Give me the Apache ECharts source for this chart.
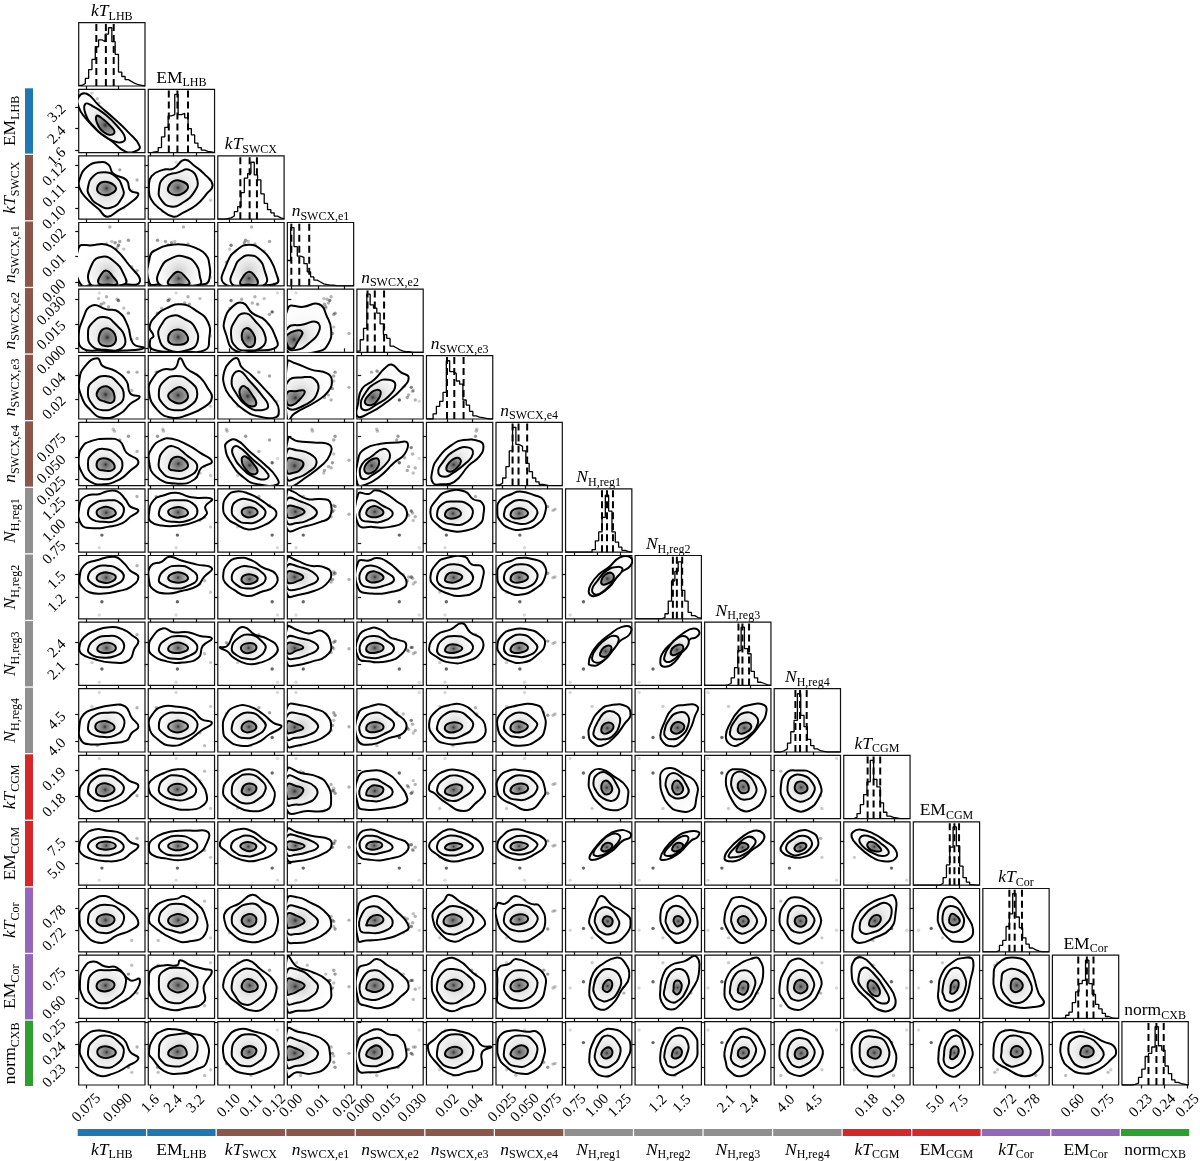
<!DOCTYPE html>
<html lang="en">
<head>
<meta charset="UTF-8">
<title>Corner plot</title>
<script src="https://cdn.jsdelivr.net/npm/echarts@6/dist/echarts.min.js"></script>
<style>
  html, body { margin: 0; background: #fff; }
  #main { width: 1200px; height: 1161px; }
</style>
</head>
<body>
<div id="main"></div>
<script>
// parameters, in corner order
const paramLabels = ['{i|kT}{s|LHB}', '{r|EM}{s|LHB}', '{i|kT}{s|SWCX}', '{i|n}{s|SWCX,e1}', '{i|n}{s|SWCX,e2}', '{i|n}{s|SWCX,e3}', '{i|n}{s|SWCX,e4}',
  '{i|N}{s|H,reg1}', '{i|N}{s|H,reg2}', '{i|N}{s|H,reg3}', '{i|N}{s|H,reg4}', '{i|kT}{s|CGM}', '{r|EM}{s|CGM}', '{i|kT}{s|Cor}', '{r|EM}{s|Cor}', '{r|norm}{s|CXB}'];
const axisMin = [0.0712, 1.515, 0.0951, -0.0015, -0.0025, 0.0028, 0.0176, 0.651, 0.9125, 1.817, 3.789, 0.17146, 2.605, 0.6635, 0.496, 0.22185];
const axisMax = [0.1029, 3.857, 0.1244, 0.0234, 0.0362, 0.0572, 0.0912, 1.379, 1.7425, 2.67, 4.987, 0.19575, 9.61, 0.8314, 0.831, 0.25026];
const tickText = [['0.075', '0.090'], ['1.6', '2.4', '3.2'], ['0.10', '0.11', '0.12'], ['0.00', '0.01', '0.02'], ['0.000', '0.015', '0.030'], ['0.02', '0.04'], ['0.025', '0.050', '0.075'],
  ['0.75', '1.00', '1.25'], ['1.2', '1.5'], ['2.1', '2.4'], ['4.0', '4.5'], ['0.18', '0.19'], ['5.0', '7.5'], ['0.72', '0.78'], ['0.60', '0.75'], ['0.23', '0.24', '0.25']];
const groupColors = ['#1f77b4', '#1f77b4', '#8c564b', '#8c564b', '#8c564b', '#8c564b', '#8c564b', '#8f8f8f', '#8f8f8f', '#8f8f8f', '#8f8f8f', '#d62728', '#d62728', '#9467bd', '#9467bd', '#2ca02c'];

// 16/50/84 percent lines, read as percent of each axis range
const quantilePct = [[26.6, 41, 52.8], [31, 44, 60], [34, 48, 59], [6, 18, 33], [16, 27, 41], [31, 42, 56], [25, 34, 47], [55, 62.5, 71.5], [57, 63, 71], [51, 57, 67], [32, 39, 49], [36, 45, 55], [55, 62, 69], [40, 48, 59], [39, 52, 62], [40, 52, 63]];

// histogram heights, 20 bins per parameter, percent of panel height
const histLHBkT = [1, 4, 12, 26, 42, 62, 73, 70, 82, 92, 70, 50, 22, 15, 10, 7, 4, 2, 1, 0];
const histLHBem = [0, 1, 2, 8, 25, 40, 58, 60, 92, 60, 62, 55, 38, 28, 15, 8, 4, 2, 1, 0];
const histSWCXkT = [0, 0, 1, 2, 5, 12, 20, 42, 65, 72, 90, 70, 62, 40, 25, 15, 10, 5, 2, 1];
const histE1 = [40, 92, 62, 47, 45, 35, 22, 14, 9, 6, 3, 2, 1, 1, 0, 0, 0, 0, 0, 0];
const histE2 = [2, 20, 38, 92, 75, 70, 62, 45, 28, 22, 10, 7, 4, 2, 1, 1, 0, 0, 0, 0];
const histE3 = [0, 0, 8, 20, 28, 42, 92, 75, 72, 60, 55, 30, 22, 12, 5, 3, 2, 1, 0, 0];
const histE4 = [1, 4, 12, 30, 55, 92, 65, 62, 55, 35, 22, 12, 6, 2, 1, 0, 0, 0, 0, 0];
const histN1 = [0, 0, 0, 0, 0, 0, 0, 0, 4, 18, 32, 55, 90, 65, 32, 16, 8, 3, 1, 0];
const histN2 = [0, 0, 0, 0, 0, 0, 0, 0, 2, 8, 28, 60, 75, 90, 45, 28, 10, 5, 2, 1];
const histN3 = [0, 0, 0, 0, 0, 0, 1, 3, 12, 28, 55, 92, 58, 50, 22, 12, 5, 3, 1, 0];
const histN4 = [0, 0, 2, 5, 14, 32, 50, 92, 58, 40, 20, 10, 5, 2, 1, 0, 0, 0, 0, 0];
const histCGMkT = [0, 0, 0, 2, 8, 22, 38, 58, 92, 62, 50, 25, 10, 4, 2, 1, 0, 0, 0, 0];
const histCGMem = [0, 0, 0, 0, 0, 0, 0, 0, 3, 12, 32, 60, 92, 62, 30, 12, 5, 1, 0, 0];
const histCorkT = [0, 0, 0, 0, 2, 10, 18, 40, 60, 92, 55, 38, 22, 12, 6, 3, 1, 0, 0, 0];
const histCorEm = [0, 0, 0, 1, 5, 10, 25, 42, 55, 60, 92, 55, 38, 22, 15, 8, 3, 1, 0, 0];
const histNorm = [0, 0, 0, 1, 3, 12, 25, 45, 50, 60, 92, 62, 55, 30, 18, 8, 4, 2, 1, 0];
const histTable = [histLHBkT, histLHBem, histSWCXkT, histE1, histE2, histE3, histE4, histN1, histN2, histN3, histN4, histCGMkT, histCGMem, histCorkT, histCorEm, histNorm];

// samples lying outside the contours: 16 values (percent of axis range), last one its opacity
const outlierSamples = [
  [35,44,82,24,64,30,36,27,27,26,23,72,27,37,58,67,.6], [31,42,90,13,94,28,43,7,6,5,94,95,8,34,48,87,.15],
  [52,22,13,37,30,76,89,68,66,68,60,55,63,65,50,34,.25], [54,23,14,38,31,75,86,66,65,66,58,54,62,64,48,33,.25],
  [47,53,51,93,30,50,40,60,62,58,40,50,60,50,50,50,.3], [60,30,20,64,82,50,60,65,66,60,50,40,64,40,60,50,.5],
  [68,20,18,58,70,60,58,70,70,64,60,30,66,30,70,42,.25], [30,78,70,55,85,45,20,50,55,50,30,60,55,60,30,60,.25],
  [62,26,78,70,60,68,72,74,74,68,62,44,66,48,76,36,.35], [75,14,42,72,62,74,78,72,72,70,58,40,70,36,70,28,.4],
  [55,35,40,68,30,48,36,64,62,60,42,44,60,50,48,50,.4], [38,55,52,62,78,38,30,58,66,54,36,50,64,44,58,56,.3],
  [45,48,42,58,72,52,44,70,60,62,46,40,58,54,44,44,.3], [50,40,46,70,40,60,50,66,70,58,50,48,66,40,56,46,.25],
  [42,60,56,66,88,30,28,56,58,52,34,54,60,56,46,60,.3], [58,32,36,60,84,44,50,62,64,60,44,42,56,46,60,48,.3],
  [34,62,60,56,76,34,24,60,60,56,38,52,62,52,50,56,.35], [80,15,45,30,20,45,36,62,64,58,42,44,62,18,84,20,.25],
  [28,85,50,20,30,40,30,55,60,50,10,75,55,80,20,15,.25], [88,12,62,24,22,74,54,88,84,80,70,36,74,50,40,60,.3],
  [20,94,30,14,26,20,16,40,42,36,72,16,44,22,88,24,.2]
];

// contours per panel [outer, middle, inner]; each a flat x,y list, percent of axis range
const contourRow1 = [
  [[0,88,12,93,30,75,52,55,75,32,92,10,85,2,70,2,50,18,30,33,10,55,0,72],[10,77,20,74,38,62,58,42,70,22,60,16,42,24,22,42,10,62],[27,58,34,55,46,44,54,33,48,28,38,32,28,46]]
];
const contourRow2 = [
  [[1,62,12,82,32,90,45,86,52,72,72,62,78,45,90,40,78,26,60,14,43,4,30,16,10,35,1,50],[14,50,22,68,38,74,55,68,66,50,66,35,48,18,28,24,16,38],[28,50,34,58,46,58,56,50,52,42,40,38,30,42]],
  [[1,50,5,68,22,78,38,80,55,94,70,84,84,72,97,54,88,40,72,22,52,10,38,4,18,16,4,32],[16,45,24,66,45,74,62,78,74,62,70,44,52,26,34,20,20,30],[30,50,38,60,50,60,60,52,54,42,42,38,32,42]]
];
const contourRow3 = [
  [[2,4,0,60,20,64,42,65,58,55,72,38,92,6,60,3,30,3],[17,3,20,34,36,46,54,38,68,18,70,3,40,2],[30,4,34,18,42,24,52,14,58,3,44,2]],
  [[2,4,3,48,14,58,30,64,55,65,75,58,86,50,92,35,92,10,86,3,50,2,20,3],[16,3,20,30,36,44,55,46,72,34,78,14,78,2,45,2],[30,3,36,16,46,22,56,14,62,3,46,2]],
  [[9,4,14,36,28,56,48,65,68,55,80,40,88,20,89,4,50,2],[21,3,26,30,36,44,50,48,62,42,70,26,72,3,46,2],[34,3,38,14,46,22,54,18,60,3,46,2]]
];
const contourRow4 = [
  [[0,22,6,52,20,74,42,68,60,64,74,42,82,14,98,7,70,3,30,3,6,6],[14,30,20,46,38,56,56,44,70,22,64,6,40,4,20,10],[30,22,36,36,48,36,56,24,52,12,40,10,32,14]],
  [[3,20,8,26,2,40,12,58,28,70,50,76,72,66,90,48,92,22,86,4,50,2,6,5],[16,24,20,44,36,58,56,52,70,40,74,16,60,4,30,4],[30,20,34,32,46,36,58,28,58,16,44,12,34,14]],
  [[12,30,10,50,22,72,38,78,52,62,72,50,88,22,88,8,60,3,26,3],[20,28,26,50,40,62,56,50,72,24,66,8,44,3,28,8],[36,26,42,38,52,32,56,16,48,8,40,14]],
  [[0,2,1,70,24,72,48,76,60,56,66,36,62,14,48,2],[0,8,0,38,24,44,44,48,48,34,32,14,14,4],[0,12,0,28,22,33,14,14,8,6]]
];
const contourRow5 = [
  [[1,62,10,84,28,96,36,84,55,76,72,60,78,40,92,35,78,24,62,8,36,2,18,14,4,36],[14,46,22,60,40,68,58,58,68,36,56,20,36,14,20,24],[27,40,34,50,46,50,54,36,50,26,38,28,30,32]],
  [[1,44,8,66,22,78,40,80,48,96,58,80,78,66,90,48,96,34,86,20,58,6,36,2,14,14],[16,42,24,60,42,68,62,60,74,40,62,20,40,14,22,24],[30,36,38,46,50,50,60,36,52,26,40,26]],
  [[10,76,20,92,29,96,36,82,50,70,70,48,88,26,92,14,88,3,62,4,40,14,20,34,10,52],[21,62,32,76,48,60,66,38,76,20,66,14,48,18,28,40],[33,46,40,52,52,38,58,24,50,20,40,26,34,36]],
  [[0,-4,0,90,12,88,36,78,60,72,67,62,62,44,44,28,10,8],[0,18,0,58,24,66,42,62,46,44,30,24],[0,24,0,42,12,44,26,44,18,30,8,22]],
  [[1,4,2,26,8,48,26,62,42,80,52,86,66,74,78,66,68,48,44,26,20,10],[6,20,12,40,30,58,48,62,58,54,48,36,28,22,14,14],[12,26,18,38,30,46,36,42,30,28,22,22]]
];
const contourRow6 = [
  [[0,44,6,62,18,70,42,74,62,70,72,52,90,38,76,22,62,10,38,2,18,6,4,22],[14,34,20,50,38,58,58,48,66,32,56,16,38,10,20,18],[27,34,32,42,44,42,54,32,50,24,38,24,30,26]],
  [[1,40,6,60,20,72,36,74,60,64,78,52,96,38,80,28,70,10,44,3,12,14],[16,38,24,56,38,62,58,48,74,30,60,14,36,12,20,22],[32,34,38,44,50,44,60,32,52,24,40,24,32,26]],
  [[11,62,16,70,28,72,48,54,70,34,88,14,90,2,60,2,40,12,20,36],[22,58,30,62,52,42,76,18,72,10,54,14,36,28,24,46],[36,42,42,46,54,34,60,22,52,18,42,26]],
  [[0,-2,1,74,16,70,40,68,64,64,64,48,52,32,24,10,10,0],[0,10,0,56,14,56,34,50,44,36,30,20,14,12],[0,20,0,42,12,42,24,36,18,24,8,20]],
  [[1,2,2,42,12,58,36,66,62,68,76,68,72,50,56,36,34,14,14,2],[5,16,8,34,22,46,40,58,50,48,40,30,22,16,12,10],[12,22,14,34,24,42,32,42,32,30,22,20]],
  [[10,4,9,24,18,44,38,64,56,72,80,70,86,62,80,46,64,32,42,6,22,2],[18,20,24,36,44,56,64,60,70,50,60,36,40,20,28,14],[30,26,34,36,46,44,52,38,44,26,36,22]]
];
const contourRow7 = [
  [[1,72,10,88,32,92,42,96,58,96,70,84,78,72,90,66,78,56,66,46,44,40,22,38,4,44],[14,62,22,76,44,82,62,78,68,64,56,50,36,48,20,52],[27,62,34,70,48,70,56,62,50,56,36,54]],
  [[1,60,8,82,24,90,42,94,60,88,72,86,96,84,86,72,88,60,70,48,46,42,20,42,4,48],[16,62,26,78,46,82,66,78,74,62,60,50,38,48,22,52],[30,64,38,70,52,70,60,62,52,56,38,56]],
  [[8,70,14,88,28,96,48,92,66,82,76,74,88,64,84,52,64,40,46,36,28,44,14,54],[21,66,30,82,50,82,66,72,72,62,62,50,44,46,28,52],[36,64,42,70,54,70,60,62,52,56,42,56]],
  [[0,36,0,98,8,96,30,84,50,84,64,80,64,56,50,48,24,40],[0,46,0,84,20,80,40,70,44,60,30,50,14,46],[0,56,0,72,12,72,26,64,14,56,6,54]],
  [[2,44,2,92,18,92,28,98,44,92,60,80,74,68,72,50,50,40,24,40],[5,54,8,72,22,82,38,74,54,62,42,50,20,48],[14,62,22,72,34,70,40,62,32,56,20,56]],
  [[6,62,16,84,32,96,58,96,70,84,84,78,86,60,80,44,58,34,36,34,18,42],[16,60,24,76,42,80,62,76,70,62,58,46,38,44,22,50],[28,60,34,68,46,68,52,60,44,54,32,54]],
  [[2,64,6,82,24,92,36,96,58,90,72,82,74,62,62,44,40,36,20,38,6,50],[12,60,20,76,40,82,58,72,62,60,48,46,30,46,16,52],[22,60,28,68,42,68,48,60,38,54,26,54]]
];
const contourRow8 = [
  [[1,62,8,84,26,92,54,98,68,88,78,76,90,66,78,50,60,44,38,40,16,42,4,52],[14,66,24,80,42,84,60,78,68,66,56,54,36,50,20,56],[27,64,34,72,48,72,56,66,48,58,34,58]],
  [[1,62,4,84,20,90,32,98,50,92,72,86,96,80,84,66,74,52,50,44,30,40,8,46],[16,62,26,78,46,84,64,78,74,64,60,52,40,48,22,54],[30,64,38,72,52,72,60,64,52,58,38,58]],
  [[8,66,14,86,30,96,52,92,66,82,88,70,86,52,64,42,44,36,24,46,12,56],[21,66,30,80,50,82,68,72,72,62,62,52,44,48,28,54],[36,64,44,70,56,68,60,62,52,56,40,56]],
  [[0,38,0,96,14,92,34,84,54,82,66,72,58,54,40,44,18,38],[0,48,0,84,18,82,38,74,46,62,30,52,12,46],[0,58,0,74,10,74,24,66,12,58,4,56]],
  [[2,48,2,90,18,92,30,96,46,90,64,74,74,62,72,50,50,42,22,40],[5,58,8,78,24,84,40,76,56,62,40,52,18,50],[14,64,20,74,34,72,40,64,30,58,20,58]],
  [[6,66,16,88,30,96,58,98,68,86,84,82,84,60,76,44,50,36,32,40,14,50],[16,66,24,80,42,86,62,78,70,62,54,50,36,48,20,54],[28,62,34,72,46,72,54,66,44,58,32,58]],
  [[2,68,6,84,24,92,34,96,56,94,72,86,74,66,60,48,36,38,18,42,6,52],[12,66,20,80,40,86,58,78,62,64,48,50,30,50,16,56],[22,64,28,72,42,72,48,64,38,58,26,58]],
  [[35,42,38,54,50,70,66,82,82,97,98,97,98,84,82,72,66,50,50,38,40,36],[40,46,48,60,62,76,78,82,86,78,76,64,60,46,46,38],[54,60,60,70,70,72,72,62,64,56,56,54]]
];
const contourRow9 = [
  [[1,60,8,76,24,86,46,92,68,88,82,78,90,70,84,58,76,40,50,36,22,42,4,50],[14,56,24,72,42,78,62,74,68,58,54,46,34,44,20,48],[28,58,36,66,50,66,56,58,48,52,34,52]],
  [[1,60,6,76,22,90,38,84,60,84,78,78,96,74,82,62,76,44,52,36,28,38,6,48],[16,58,26,72,46,78,66,72,74,58,60,46,40,42,22,48],[30,58,38,66,52,66,60,58,50,52,36,52]],
  [[3,60,14,62,26,84,40,92,56,80,74,74,90,60,84,46,64,36,44,34,24,44,14,54],[21,58,30,74,50,80,68,68,72,58,60,44,44,42,28,48],[35,60,42,66,54,66,58,58,50,52,40,52]],
  [[0,34,0,92,14,88,32,82,52,86,66,64,58,46,38,38,14,32],[0,44,0,76,20,74,40,68,46,58,30,48,10,42],[0,52,0,66,12,66,24,60,12,54,4,50]],
  [[2,44,2,76,20,90,36,88,50,76,62,72,74,66,68,50,46,38,18,38],[5,52,8,70,24,78,42,72,56,58,40,46,16,44],[14,58,20,66,34,66,40,58,30,52,18,52]],
  [[4,58,16,80,36,88,54,98,66,84,84,72,82,52,60,38,36,36,14,46],[16,56,24,72,42,78,62,72,70,58,54,46,34,44,20,48],[28,56,34,64,46,64,54,58,44,52,32,52]],
  [[2,62,8,78,24,88,50,88,66,80,74,66,62,48,40,36,18,40,6,50],[12,60,20,74,40,80,56,70,62,58,46,46,28,46,16,50],[22,58,30,66,42,66,48,58,38,52,26,52]],
  [[35,34,38,48,50,66,66,80,84,92,98,92,96,80,82,70,64,46,48,32,38,32],[40,44,48,60,62,74,76,78,80,70,70,54,58,40,46,36],[52,50,58,60,68,62,68,54,62,46,54,46]],
  [[38,36,42,52,56,68,72,82,88,90,97,84,92,76,82,72,68,48,54,32,42,30],[44,44,52,62,66,76,78,76,80,64,68,50,54,38,46,38],[54,54,60,62,70,64,72,56,64,50,56,48]]
];
const contourRow10 = [
  [[1,40,8,60,24,68,50,74,70,72,80,54,90,40,80,30,72,18,46,14,18,12,4,18],[14,38,22,56,44,62,64,58,68,40,54,26,34,24,20,28],[25,40,32,48,48,46,54,38,46,32,32,32]],
  [[1,42,8,62,22,72,40,72,66,66,80,52,96,46,80,34,60,18,36,10,14,20],[16,42,24,58,44,62,66,56,74,40,58,24,38,22,22,30],[30,40,38,48,52,48,60,40,50,32,38,32]],
  [[8,34,12,58,28,72,48,72,68,60,84,46,96,40,78,28,58,14,34,10,14,20],[21,38,30,56,50,62,66,52,72,40,58,26,40,22,26,28],[36,40,44,48,54,46,58,38,50,32,40,32]],
  [[0,10,0,72,20,74,42,68,58,60,66,40,58,26,38,16,14,10],[0,20,0,58,20,60,40,50,46,38,30,26,10,22],[0,30,0,48,10,46,24,38,12,32,4,30]],
  [[2,18,2,60,20,72,42,74,60,60,74,46,70,30,48,22,22,12],[5,30,8,50,26,62,44,56,56,42,40,28,18,22],[14,38,20,46,34,46,40,38,30,32,18,32]],
  [[4,44,14,64,34,74,56,74,76,58,88,44,84,22,56,14,26,14,12,24],[16,40,26,58,46,64,64,54,70,40,54,26,34,22,20,30],[28,40,36,46,48,46,54,40,44,32,32,32]],
  [[2,42,8,62,26,72,62,74,72,60,74,38,64,20,36,10,14,18],[12,40,20,56,40,62,56,52,62,42,46,26,28,24,16,30],[22,40,30,48,42,46,48,40,38,32,26,32]],
  [[35,26,38,44,52,66,68,74,92,72,98,58,90,46,74,24,54,10,42,14],[42,30,50,50,62,64,78,60,82,46,70,24,56,20,46,22],[54,36,58,44,68,46,72,38,64,30,56,30]],
  [[38,26,44,46,56,68,72,74,94,72,90,56,82,34,66,12,50,10,42,16],[44,32,52,52,64,62,78,60,80,42,68,24,54,20,46,24],[54,36,60,46,70,46,74,38,66,30,58,30]],
  [[32,26,38,44,52,66,66,74,90,74,92,58,84,44,68,24,48,10,36,14],[38,30,46,50,60,62,76,58,80,44,64,24,50,20,42,22],[50,36,54,44,66,46,70,38,60,30,52,30]]
];
const contourRow11 = [
  [[1,42,8,58,26,74,44,78,64,70,76,60,90,52,78,36,66,26,44,18,24,12,6,26],[14,44,22,62,42,68,60,60,68,46,54,32,34,28,20,34],[26,44,32,54,46,54,54,46,46,38,32,36]],
  [[1,46,4,60,24,72,44,78,62,74,78,58,88,38,84,22,60,14,30,20,10,32],[16,48,26,64,44,68,64,58,72,42,56,30,38,30,22,36],[30,46,38,54,50,54,58,46,50,38,38,38]],
  [[8,44,14,60,30,72,48,78,68,68,82,50,86,36,76,18,48,12,24,22,12,32],[21,44,28,62,48,70,68,58,72,46,60,30,42,24,26,32],[36,44,42,54,54,54,58,46,50,38,40,38]],
  [[0,12,0,78,20,72,46,66,60,54,66,30,60,14,30,12],[0,22,0,66,22,60,42,50,44,36,28,24,10,22],[0,32,0,54,12,52,24,46,16,34,6,32]],
  [[2,20,2,66,24,76,48,70,62,56,76,32,68,22,42,16,14,14],[5,34,8,54,24,62,40,56,54,42,40,30,20,28],[14,38,20,50,32,52,40,46,32,36,20,36]],
  [[4,46,10,62,30,76,50,76,72,68,86,50,88,40,76,26,56,12,28,26,12,40],[16,46,26,62,46,68,64,58,70,48,56,34,38,28,22,36],[28,44,36,52,48,54,54,48,46,38,32,38]],
  [[2,44,4,64,20,76,40,76,62,70,74,46,70,32,50,14,22,24,8,32],[12,46,20,62,40,68,58,58,62,46,48,32,30,30,16,36],[22,46,30,54,44,54,48,46,38,40,26,40]],
  [[35,58,40,74,54,78,74,66,92,50,94,34,88,18,66,14,50,24,38,42],[42,56,48,70,62,72,78,52,80,38,70,28,54,34,46,44],[54,52,60,60,68,54,70,44,62,38,56,42]],
  [[38,58,40,74,54,80,70,72,92,56,92,30,86,14,66,12,50,22,40,42],[46,56,52,70,64,70,78,52,80,40,68,32,54,36,48,46],[56,52,62,60,70,54,72,44,64,38,58,42]],
  [[32,60,36,74,50,78,70,72,88,56,90,34,72,14,54,14,42,28,34,46],[40,58,46,72,60,72,76,54,76,38,62,30,48,36,42,46],[50,54,56,60,64,56,66,44,58,40,52,44]],
  [[10,50,18,72,36,76,56,72,70,52,68,34,50,14,30,14,14,30],[20,50,26,66,44,68,58,56,60,42,46,28,30,30,22,38],[31,50,36,58,46,56,50,46,42,40,34,42]]
];
const contourRow12 = [
  [[1,62,8,78,24,88,44,86,64,82,78,68,90,62,78,50,64,40,40,38,18,42,4,50],[14,62,22,72,40,76,58,72,68,60,56,50,36,47,20,52],[27,62,34,68,48,68,56,62,48,57,34,57]],
  [[1,60,6,72,24,82,46,86,68,86,90,84,88,66,76,50,52,40,28,42,6,48],[16,62,24,72,44,78,66,72,74,60,60,50,38,47,22,52],[30,62,38,68,52,68,60,62,50,56,38,56]],
  [[3,64,12,78,30,88,50,86,70,72,88,60,82,48,62,40,46,38,26,44,12,54],[20,62,30,74,48,78,64,68,72,58,58,48,40,46,26,52],[34,62,42,68,54,66,58,60,50,54,40,56]],
  [[0,40,0,88,14,84,36,78,64,72,66,60,58,52,36,42,14,38],[0,48,0,78,20,76,40,68,46,60,30,52,12,48],[0,58,0,68,12,68,26,62,14,56,4,56]],
  [[2,48,2,78,20,88,38,82,60,74,76,66,74,52,50,42,22,40],[5,58,8,74,24,78,40,72,54,60,40,52,16,50],[14,62,20,68,34,68,38,62,30,57,18,57]],
  [[4,62,14,76,32,88,50,84,70,76,84,62,82,50,62,42,36,38,14,50],[16,62,24,74,44,78,62,70,70,60,54,50,34,47,20,52],[28,60,36,66,48,66,54,62,44,56,32,56]],
  [[2,64,8,76,26,88,48,84,72,74,74,62,60,50,36,40,14,46,4,54],[12,62,20,72,40,78,58,70,62,62,46,50,26,50,16,54],[22,62,30,68,44,66,48,62,38,56,26,56]],
  [[36,44,44,58,60,76,78,86,96,84,98,76,86,70,70,54,54,44,40,40],[42,50,52,66,68,80,82,78,78,66,64,52,50,46],[54,58,60,66,68,66,70,60,62,54,56,54]],
  [[38,42,44,56,60,74,78,84,96,84,94,76,84,70,68,52,52,42,42,40],[44,50,54,64,68,76,80,76,76,64,62,50,50,46],[56,58,62,66,70,66,72,60,64,54,58,54]],
  [[30,42,36,56,54,74,74,86,88,82,88,70,72,56,52,40,36,38],[36,46,48,62,64,76,76,72,74,62,58,48,44,44],[48,56,54,66,62,66,66,60,58,54,50,52]],
  [[10,60,20,74,38,86,56,84,66,72,62,56,42,44,22,46,12,52],[18,60,28,72,44,78,56,70,54,58,38,48,24,50],[31,60,38,66,46,66,48,60,40,54,33,54]],
  [[14,84,24,88,44,82,62,70,78,56,78,42,60,38,40,46,20,64,12,76],[24,74,36,78,56,66,68,52,58,46,42,52,28,62],[36,66,44,68,54,60,56,54,46,54,38,58]]
];
const contourRow13 = [
  [[1,56,6,70,20,82,40,88,58,78,74,68,90,46,78,34,58,26,34,14,8,30],[14,50,22,68,44,74,62,66,68,50,54,34,34,30,20,38],[27,50,34,58,48,58,54,50,46,42,32,42]],
  [[1,50,8,68,24,80,44,84,54,88,70,78,84,62,86,28,60,16,38,20,8,40],[16,52,24,68,42,76,64,68,74,50,56,32,34,34,20,42],[30,50,38,58,52,58,60,50,50,42,36,42]],
  [[10,50,14,66,32,76,52,90,68,80,86,68,88,34,72,20,46,16,22,28],[21,50,28,66,48,76,64,70,72,50,62,32,44,28,28,36],[36,50,42,58,54,58,58,48,50,40,40,42]],
  [[0,18,0,84,16,86,34,78,54,66,66,46,58,30,36,18,14,14],[0,30,0,70,18,70,36,60,46,46,30,32,12,28],[0,38,0,60,12,58,26,48,14,40,4,38]],
  [[2,18,2,72,14,84,36,86,58,66,78,40,68,30,40,20,14,18],[5,34,8,60,24,72,40,64,54,46,40,32,18,30],[14,42,20,54,32,58,40,50,30,42,18,42]],
  [[10,50,12,66,26,80,34,90,52,78,72,66,88,48,82,36,60,24,42,16,20,30],[16,50,26,66,44,72,66,60,70,46,54,32,34,28,20,38],[26,50,34,58,46,58,54,50,44,42,30,42]],
  [[2,48,2,76,14,76,30,88,52,76,66,72,74,44,62,26,36,16,14,28],[12,52,20,68,40,74,58,62,62,48,46,34,26,34,16,40],[22,50,30,58,44,58,48,50,38,44,26,44]],
  [[36,52,44,72,54,88,70,74,88,62,98,50,90,26,68,14,52,22,38,40],[44,50,50,66,64,70,78,54,80,40,68,28,52,32,46,42],[56,50,62,56,70,52,70,44,64,40,58,44]],
  [[38,54,42,74,54,84,68,88,82,74,94,50,88,30,66,14,52,24,40,42],[46,50,52,68,66,72,80,58,82,44,68,30,54,32,48,42],[58,50,62,56,70,54,72,46,64,40,60,44]],
  [[30,54,36,74,46,86,70,80,86,66,92,44,78,28,58,14,42,24,32,40],[40,52,46,68,60,72,74,60,78,44,62,30,48,32,42,42],[50,50,56,56,64,54,66,46,58,40,52,44]],
  [[8,52,16,76,30,86,52,78,68,60,68,38,52,20,32,14,14,34],[20,50,26,68,42,72,56,60,60,46,46,32,30,32,22,40],[31,50,36,56,46,56,48,46,42,40,34,42]],
  [[13,30,18,52,36,74,62,86,76,88,78,60,70,36,46,22,24,14,14,20],[24,40,30,56,48,72,66,76,72,60,60,40,42,30,28,30],[38,44,42,54,50,58,56,52,50,42,42,40]],
  [[37,56,42,76,50,86,66,82,80,58,90,36,84,20,64,16,52,22,40,40],[44,52,48,68,60,72,72,62,76,44,66,32,52,34,46,42],[54,50,58,60,66,56,70,48,62,42,56,44]]
];
const contourRow14 = [
  [[2,58,8,80,22,90,40,82,58,80,78,60,92,62,84,40,62,24,42,16,18,22,6,34],[14,52,22,72,44,76,66,72,70,50,56,32,34,24,20,34],[27,52,34,60,48,60,54,52,46,44,32,44]],
  [[1,60,6,78,26,84,44,84,48,92,64,84,84,78,96,74,84,52,84,26,56,16,32,14,6,30],[16,58,22,74,44,80,66,72,74,50,58,30,40,24,22,34],[30,52,38,62,50,62,60,52,50,42,36,44]],
  [[8,52,16,74,30,86,46,92,64,78,84,60,88,42,76,22,54,12,24,28,12,42],[21,52,30,72,50,78,68,64,72,48,58,28,40,22,26,36],[36,52,44,62,56,58,60,48,50,42,40,44]],
  [[0,12,0,98,14,82,36,74,60,60,66,44,62,26,40,14,16,12],[0,24,0,76,18,76,36,64,46,48,30,30,12,24],[0,38,0,62,12,60,26,52,14,42,4,38]],
  [[2,28,2,78,18,86,30,94,46,84,66,70,78,52,68,36,42,18,14,20],[5,40,10,66,26,76,42,68,54,50,40,34,18,30],[14,48,20,60,34,60,40,50,30,42,18,44]],
  [[8,54,14,78,30,94,48,92,70,72,88,54,80,28,56,18,34,12,14,32],[16,52,24,72,40,78,62,68,72,50,54,30,34,24,20,36],[28,52,36,60,48,60,54,52,44,44,32,46]],
  [[2,58,4,80,20,86,30,94,54,84,72,70,74,48,64,26,36,16,4,24,2,40],[12,50,20,70,38,76,56,68,62,50,46,30,26,30,16,38],[22,52,30,60,42,60,48,52,38,44,26,44]],
  [[36,46,42,72,56,86,76,96,88,90,96,66,84,44,70,22,52,14,38,30],[42,48,50,70,66,78,82,66,80,44,64,28,50,30,44,38],[56,48,60,58,68,60,70,50,64,42,58,44]],
  [[38,44,42,68,54,84,74,90,92,98,96,70,86,46,70,24,54,14,40,26],[44,44,52,70,68,78,80,66,78,46,62,26,50,28,44,36],[58,46,60,58,68,58,70,48,64,38,58,42]],
  [[30,44,36,70,50,84,70,94,82,94,88,66,78,40,66,22,48,14,34,26],[38,42,44,66,60,76,74,66,74,46,60,28,46,28,40,36],[50,44,54,56,62,58,66,50,60,38,52,40]],
  [[8,48,16,76,32,94,54,84,70,64,68,44,52,22,30,14,12,32],[20,50,26,70,44,76,58,62,58,44,44,30,28,30,22,38],[30,50,36,60,46,58,50,48,42,40,33,42]],
  [[12,70,16,92,28,96,44,82,66,54,78,30,72,14,52,14,36,30,18,50],[22,62,30,80,44,72,62,46,68,28,56,24,42,34,26,50],[36,54,42,60,52,50,54,38,46,36,38,44]],
  [[38,44,42,68,58,88,78,96,90,92,86,60,78,30,64,14,46,16,38,30],[44,44,50,68,64,80,76,70,78,46,64,28,50,28,46,36],[56,44,58,56,66,60,68,50,62,40,56,40]],
  [[16,62,22,86,50,96,70,82,84,40,92,24,76,18,50,18,26,30,18,46],[28,60,32,74,54,76,72,56,70,36,50,24,34,36,28,48],[42,52,46,62,56,60,60,50,52,42,44,44]]
];
const contourRow15 = [
  [[2,62,10,78,28,86,50,82,68,72,78,52,90,42,74,30,52,18,28,16,6,40],[14,52,22,70,42,78,60,68,68,52,56,32,36,28,20,38],[28,52,34,60,46,60,56,52,48,44,34,44]],
  [[1,50,8,74,22,86,40,88,62,82,86,72,88,36,70,24,50,18,24,22,6,42],[16,50,22,72,44,80,66,78,74,54,58,34,34,30,20,38],[30,50,36,58,50,62,58,52,54,44,36,44]],
  [[8,52,14,74,32,88,56,84,78,76,90,60,88,38,66,22,40,18,18,30],[21,52,28,72,46,80,66,72,72,52,58,34,40,30,26,38],[36,52,42,60,54,60,58,52,50,44,40,44]],
  [[0,14,0,88,16,84,34,80,56,70,64,52,60,30,36,18,14,20],[0,28,0,72,18,70,38,60,46,48,30,34,12,30],[0,40,0,60,12,58,24,50,14,42,4,40]],
  [[2,24,2,70,18,84,32,88,48,80,64,76,74,56,70,36,44,24,18,20],[5,38,8,62,26,74,40,70,54,48,40,34,18,30],[14,48,20,58,32,62,38,50,30,42,18,44]],
  [[2,60,12,72,30,86,54,84,72,76,84,62,98,60,84,52,82,28,60,20,40,16,16,34],[16,52,24,72,44,80,62,72,70,48,50,30,34,28,20,38],[28,50,34,58,46,60,54,52,44,44,32,44]],
  [[2,60,6,78,24,86,48,84,62,84,72,66,72,44,60,24,36,18,14,30,4,44],[12,52,20,72,40,78,56,70,62,52,48,32,28,30,16,38],[22,50,30,60,42,62,48,52,38,42,26,44]],
  [[36,44,40,64,54,84,72,88,90,78,98,62,92,40,78,22,56,14,38,30],[44,46,50,66,62,78,78,68,82,48,68,30,52,30,46,38],[54,50,60,58,68,58,70,48,62,42,56,44]],
  [[38,46,42,66,54,84,72,90,90,78,94,60,90,38,70,22,52,16,40,30],[44,46,50,68,64,78,78,70,78,48,64,30,50,30,46,38],[56,50,60,58,68,58,70,48,62,42,56,44]],
  [[30,52,38,74,52,88,72,84,86,66,90,46,76,28,54,14,36,24,32,36],[40,48,46,68,60,76,74,66,76,48,60,30,46,32,40,40],[50,50,54,58,64,58,66,48,58,42,52,44]],
  [[8,52,14,72,30,86,52,82,68,66,72,44,52,20,30,16,12,34],[20,50,26,68,42,74,56,64,60,46,44,30,30,30,22,40],[31,50,36,58,46,58,50,48,42,42,34,42]],
  [[12,50,18,74,36,86,58,80,74,62,78,32,64,18,44,14,22,24],[24,50,28,72,46,76,64,66,66,38,46,28,32,32,26,40],[36,50,40,58,50,60,56,52,50,42,40,44]],
  [[38,46,42,68,56,86,72,80,88,58,86,38,68,16,56,14,40,30],[46,44,50,66,66,78,76,62,76,44,62,28,50,30,46,38],[56,48,58,58,66,60,68,50,62,42,56,42]],
  [[16,50,20,74,34,86,56,84,78,76,90,44,84,24,62,14,36,26,18,38],[28,50,32,70,50,78,68,64,70,44,50,30,36,32,28,42],[42,52,46,60,56,60,60,50,52,44,44,46]],
  [[12,58,18,76,38,84,56,80,78,68,92,62,96,50,90,42,72,26,46,18,22,30,14,44],[24,56,30,72,50,76,72,60,76,44,56,30,38,30,28,42],[42,50,46,60,58,60,62,50,54,44,44,46]]
];
const contourTable = [null, contourRow1, contourRow2, contourRow3, contourRow4, contourRow5, contourRow6, contourRow7, contourRow8, contourRow9, contourRow10, contourRow11, contourRow12, contourRow13, contourRow14, contourRow15];

const FONT = '"Liberation Serif", serif';
const PANEL_LEFT = 78.7, PANEL_TOP = 22.7, STEP_X = 69.55, STEP_Y = 66.6, PANEL_W = 66.3, PANEL_H = 63.3;
const N = paramLabels.length;

const richStyles = {
  i: { fontFamily: FONT, fontStyle: 'italic', fontWeight: 'normal', fontSize: 17.5, lineHeight: 22, color: '#000' },
  r: { fontFamily: FONT, fontWeight: 'normal', fontSize: 17.5, lineHeight: 22, color: '#000' },
  s: { fontFamily: FONT, fontWeight: 'normal', fontSize: 12, verticalAlign: 'bottom', color: '#000' }
};

function toAxis(p, pct) {
  return axisMin[p] + pct / 100 * (axisMax[p] - axisMin[p]);
}

function axisFor(p, showLabels, isX, extra) {
  const ticks = tickText[p].map(Number);
  const dec = tickText[p][0].split('.')[1].length;
  const longest = tickText[p][0].length;
  return Object.assign({
    type: 'value',
    min: axisMin[p],
    max: axisMax[p],
    splitLine: { show: false },
    axisLine: { show: false },
    axisTick: { show: true, length: 3.5, inside: false, customValues: ticks, lineStyle: { color: '#111', width: 1.2 } },
    axisLabel: {
      show: showLabels,
      customValues: ticks,
      rotate: 45,
      fontFamily: FONT,
      fontSize: 15,
      color: '#000',
      align: isX ? 'center' : 'right',
      verticalAlign: 'middle',
      margin: isX ? (longest === 5 ? 23 : longest === 4 ? 21 : 19) : 15,
      formatter: function (v) { return Number(v).toFixed(dec); }
    }
  }, extra || {});
}

const levelFills = [
  new echarts.graphic.RadialGradient(0.5, 0.5, 0.6, [{ offset: 0, color: '#f4f4f4' }, { offset: 0.6, color: '#fcfcfc' }, { offset: 1, color: '#ffffff' }]),
  new echarts.graphic.RadialGradient(0.5, 0.5, 0.6, [{ offset: 0, color: '#cfcfcf' }, { offset: 0.5, color: '#ebebeb' }, { offset: 1, color: '#fafafa' }]),
  new echarts.graphic.RadialGradient(0.5, 0.5, 0.6, [{ offset: 0, color: '#2c2c2c' }, { offset: 0.22, color: '#707070' }, { offset: 1, color: '#b4b4b4' }])
];

function contourSeries(row, col, axisIndex) {
  const polys = contourTable[row][col];
  return {
    type: 'custom',
    coordinateSystem: 'cartesian2d',
    xAxisIndex: axisIndex,
    yAxisIndex: axisIndex,
    clip: true,
    silent: true,
    z: 5,
    data: [[axisMin[col], axisMin[row], 0], [axisMin[col], axisMin[row], 1], [axisMin[col], axisMin[row], 2]],
    renderItem: function (params, api) {
      const level = api.value(2);
      const flat = polys[level];
      const points = [];
      for (let k = 0; k < flat.length; k += 2) {
        points.push(api.coord([toAxis(col, flat[k]), toAxis(row, flat[k + 1])]));
      }
      return {
        type: 'polygon',
        shape: { points: points, smooth: 0.5 },
        style: { fill: levelFills[level], stroke: '#000', lineWidth: 2 }
      };
    }
  };
}

const grids = [], xAxes = [], yAxes = [], series = [], titles = [], graphics = [];

for (let r = 0; r < N; r++) {
  for (let c = 0; c <= r; c++) {
    const idx = grids.length;
    const left = PANEL_LEFT + STEP_X * c;
    const top = PANEL_TOP + STEP_Y * r;
    grids.push({ left: left, top: top, width: PANEL_W, height: PANEL_H, show: true, borderColor: '#111', borderWidth: 1.2, backgroundColor: '#fff', outerBoundsMode: 'none' });
    const bottomRow = r === N - 1;

    xAxes.push(axisFor(c, bottomRow, true, Object.assign({ gridIndex: idx, position: 'bottom' }, bottomRow ? {
      name: paramLabels[c],
      nameLocation: 'middle',
      nameGap: 54,
      nameTextStyle: { rich: richStyles }
    } : {})));

    if (r === c) {
      // diagonal: step histogram with three dashed lines
      yAxes.push({ type: 'value', gridIndex: idx, min: 0, max: 100, show: false });
      const hist = histTable[c].map(function (h, i) { return [toAxis(c, i * 5), h]; });
      hist.push([axisMax[c], 0]);
      series.push({
        type: 'line',
        xAxisIndex: idx,
        yAxisIndex: idx,
        step: 'end',
        symbol: 'none',
        silent: true,
        lineStyle: { color: '#000', width: 1.3 },
        data: hist
      });
      quantilePct[c].forEach(function (q) {
        series.push({
          type: 'line',
          xAxisIndex: idx,
          yAxisIndex: idx,
          symbol: 'none',
          silent: true,
          lineStyle: { color: '#000', width: 2, type: [7, 4] },
          data: [[toAxis(c, q), 0], [toAxis(c, q), 100]]
        });
      });
      titles.push({
        text: paramLabels[c],
        left: left + PANEL_W / 2,
        top: top - 22,
        textAlign: 'center',
        padding: 0,
        textStyle: { rich: richStyles }
      });
    } else {
      yAxes.push(axisFor(r, c === 0, false, Object.assign({ gridIndex: idx, position: 'left' }, c === 0 ? {
        name: paramLabels[r],
        nameLocation: 'middle',
        nameRotate: 90,
        nameGap: 57,
        nameTextStyle: { rich: richStyles }
      } : {})));
      series.push({
        type: 'scatter',
        xAxisIndex: idx,
        yAxisIndex: idx,
        symbolSize: 3.4,
        silent: true,
        z: 1,
        data: outlierSamples.map(function (s) {
          return { value: [toAxis(c, s[c]), toAxis(r, s[r])], itemStyle: { color: '#000', opacity: s[16] } };
        })
      });
      series.push(contourSeries(r, c, idx));
    }
  }
}

// group colour bars beside and under the panels
for (let p = 0; p < N; p++) {
  if (p > 0) {
    graphics.push({ type: 'rect', shape: { x: 25, y: PANEL_TOP + STEP_Y * p - 1, width: 8, height: PANEL_H + 2 }, style: { fill: groupColors[p] }, silent: true });
  }
  graphics.push({ type: 'rect', shape: { x: PANEL_LEFT + STEP_X * p - 1, y: 1129, width: PANEL_W + 2, height: 7 }, style: { fill: groupColors[p] }, silent: true });
}

const chart = echarts.init(document.getElementById('main'), null, { renderer: 'canvas' });
chart.setOption({
  animation: false,
  backgroundColor: '#fff',
  title: titles,
  grid: grids,
  xAxis: xAxes,
  yAxis: yAxes,
  series: series,
  graphic: graphics
});
</script>
</body>
</html>
